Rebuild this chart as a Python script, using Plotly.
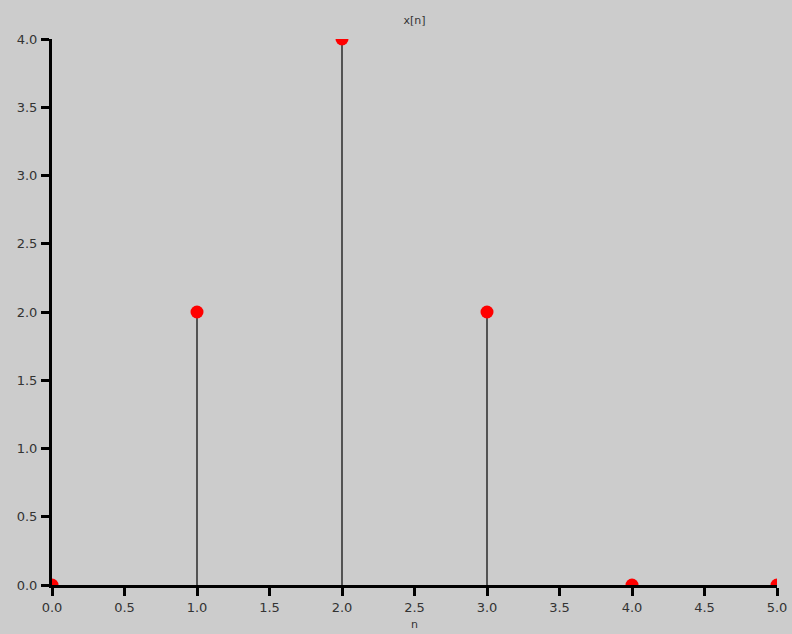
import plotly.graph_objects as go

# discrete-time signal x[n]
n = [0, 1, 2, 3, 4, 5]
x_n = [0, 2, 4, 2, 0, 0]

x_ticks = [0.0, 0.5, 1.0, 1.5, 2.0, 2.5, 3.0, 3.5, 4.0, 4.5, 5.0]
y_ticks = [0.0, 0.5, 1.0, 1.5, 2.0, 2.5, 3.0, 3.5, 4.0]

# stems: vertical segments from the baseline to each sample
stem_x, stem_y = [], []
for k, v in zip(n, x_n):
    stem_x += [k, k, None]
    stem_y += [0, v, None]

fig = go.Figure()
fig.add_trace(go.Scatter(x=stem_x, y=stem_y, mode="lines",
                         line=dict(color="#111111", width=1.3),
                         hoverinfo="skip", showlegend=False))
fig.add_trace(go.Scatter(x=n, y=x_n, mode="markers",
                         marker=dict(color="#ff0000", size=13),
                         cliponaxis=True, showlegend=False))

axis_common = dict(showgrid=False, zeroline=False, showline=True,
                   linecolor="black", linewidth=3, ticks="outside",
                   tickcolor="black", tickwidth=3, ticklen=8,
                   tickfont=dict(size=13, color="#333333",
                                 family="DejaVu Sans, sans-serif"),
                   automargin=False, mirror=False)

fig.update_layout(
    width=792, height=634,
    paper_bgcolor="#cccccc", plot_bgcolor="#cccccc",
    margin=dict(l=52, r=15, t=39, b=49),
    font=dict(family="DejaVu Sans, sans-serif", color="#333333"),
    title=dict(text="x[n]", x=(52 + 777) / 2 / 792, xanchor="center",
               y=1 - 20 / 634, yanchor="middle",
               font=dict(size=11)),
    xaxis=dict(range=[0, 5], tickvals=x_ticks,
               ticktext=[f"{t:.1f}" for t in x_ticks],
               title=dict(text="n", font=dict(size=11), standoff=7),
               **axis_common),
    yaxis=dict(range=[0, 4], tickvals=y_ticks,
               ticktext=[f"{t:.1f}" for t in y_ticks],
               ticklabelstandoff=1,
               **axis_common),
)

fig.write_html("out.html")
